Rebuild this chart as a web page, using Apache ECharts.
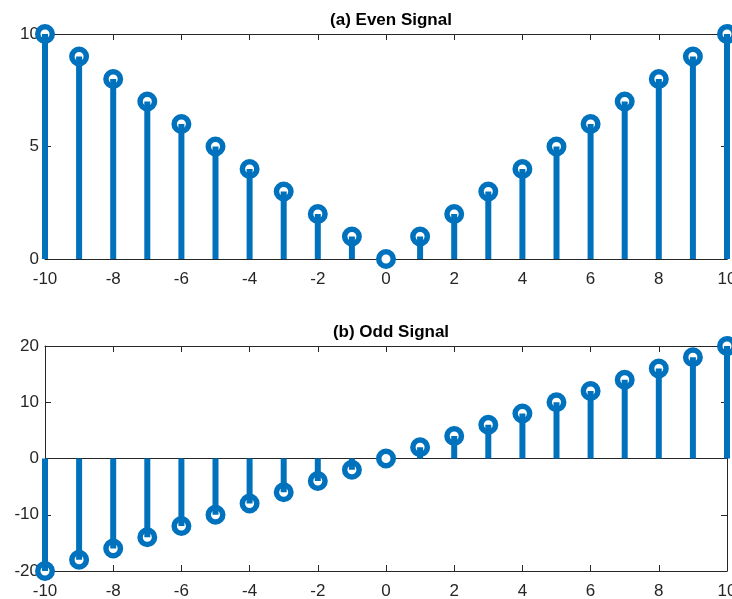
<!DOCTYPE html>
<html><head><meta charset="utf-8">
<script src="https://cdn.jsdelivr.net/npm/echarts@6/dist/echarts.min.js"></script>
<style>html,body{margin:0;padding:0;background:#fff}#c{width:732px;height:599px}</style>
</head><body><div id="c"></div>
<script>
const n = [-10,-9,-8,-7,-6,-5,-4,-3,-2,-1,0,1,2,3,4,5,6,7,8,9,10];
const evenVals = [10,9,8,7,6,5,4,3,2,1,0,1,2,3,4,5,6,7,8,9,10];
const oddVals = [-20,-18,-16,-14,-12,-10,-8,-6,-4,-2,0,2,4,6,8,10,12,14,16,18,20];
const titles = ['(a) Even Signal', '(b) Odd Signal'];

const C = '#0072BD', AX = '#262626';
const font = 'Liberation Sans, Arial, Helvetica, sans-serif';
const pairs = v => n.map((x,i)=>[x, v[i]]);

const grids = [
  {left:45, right:5, top:34, height:225, outerBoundsMode:'none', containLabel:false},
  {left:45, right:5, top:346, height:225, outerBoundsMode:'none', containLabel:false}
];
function xa(g, pos, labels){
  return {type:'value', gridIndex:g, position:pos, min:-10, max:10, interval:2,
    axisLine:{show:true, onZero:false, lineStyle:{color:AX, width:1}},
    axisTick:{show:true, inside:true, length:6, lineStyle:{color:AX}},
    axisLabel:{show:labels, color:AX, fontSize:17, fontFamily:font, margin:12, hideOverlap:false},
    splitLine:{show:false}};
}
function ya(g, pos, min, max, itv, labels){
  return {type:'value', gridIndex:g, position:pos, min:min, max:max, interval:itv,
    axisLine:{show:true, onZero:false, lineStyle:{color:AX, width:1}},
    axisTick:{show:true, inside:true, length:6, lineStyle:{color:AX}},
    axisLabel:{show:labels, color:AX, fontSize:17, fontFamily:font, margin:6},
    splitLine:{show:false}};
}
const markerStyle = {color:'#fff', borderColor:C, borderWidth:5.5, opacity:1};
const option = {
  animation:false,
  title: titles.map((t,i)=>({text:t, left:386, textAlign:'center', top: i===0?7:319,
    textStyle:{fontSize:17, fontWeight:'bold', color:'#000', fontFamily:font}})),
  grid: grids,
  xAxis:[xa(0,'bottom',true), xa(0,'top',false), xa(1,'bottom',true), xa(1,'top',false)],
  yAxis:[ya(0,'left',0,10,5,true), ya(0,'right',0,10,5,false),
         ya(1,'left',-20,20,10,true), ya(1,'right',-20,20,10,false)],
  series:[
    {type:'scatter', xAxisIndex:0, yAxisIndex:0, data:pairs(evenVals), symbol:'circle', symbolSize:14.5,
      itemStyle:markerStyle, clip:false, z:2},
    {type:'bar', xAxisIndex:0, yAxisIndex:0, data:pairs(evenVals), barWidth:6,
      itemStyle:{color:C}, z:3},
    {type:'scatter', xAxisIndex:2, yAxisIndex:2, data:pairs(oddVals), symbol:'circle', symbolSize:14.5,
      itemStyle:markerStyle, clip:false, z:2},
    {type:'bar', xAxisIndex:2, yAxisIndex:2, data:pairs(oddVals), barWidth:6,
      itemStyle:{color:C}, z:3,
      markLine:{silent:true, symbol:'none', label:{show:false}, lineStyle:{color:AX, width:1, type:'solid'},
        data:[{yAxis:0}], z:1}}
  ]
};
const chart = echarts.init(document.getElementById('c'));
chart.setOption(option);
</script></body></html>
